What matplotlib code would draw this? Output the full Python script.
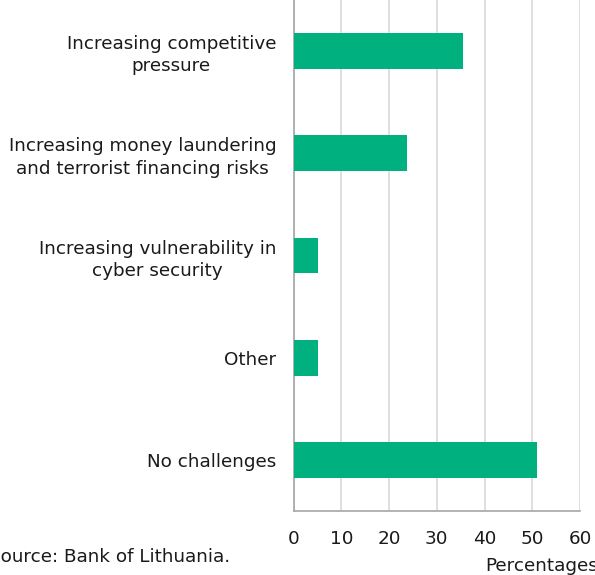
import matplotlib
matplotlib.use("Agg")
import matplotlib.pyplot as plt

# Survey answers, top to bottom
categories = [
    "Increasing competitive\npressure",
    "Increasing money laundering\nand terrorist financing risks",
    "Increasing vulnerability in\ncyber security",
    "Other",
    "No challenges",
]
shares = [35.6, 23.7, 5.1, 5.1, 50.9]
xticks = [0, 10, 20, 30, 40, 50, 60]

BAR_COLOR = "#00B07F"
GRID_COLOR = "#D9D9D9"
SPINE_COLOR = "#A6A6A6"
TEXT_COLOR = "#1A1A1A"
FS = 13.2

plt.rcParams["font.family"] = ["DejaVu Sans"]

fig = plt.figure(figsize=(5.95, 5.75), dpi=100, facecolor="white")
ax = fig.add_axes([0.4933, 0.1113, 0.4815, 0.8887])

y = list(range(len(categories)))
ax.barh(y, shares, height=0.35, color=BAR_COLOR, zorder=3)
ax.set_ylim(len(categories) - 0.5, -0.5)
ax.set_xlim(0, 60)
ax.set_xticks(xticks)
ax.set_xticklabels([str(t) for t in xticks], fontsize=FS, color=TEXT_COLOR)
ax.set_yticks(y)
ax.set_yticklabels(categories, fontsize=FS, color=TEXT_COLOR,
                   multialignment="center", linespacing=1.3)

ax.tick_params(axis="both", length=0)
ax.tick_params(axis="x", pad=13.5)
ax.tick_params(axis="y", pad=12.5)
ax.grid(axis="x", color=GRID_COLOR, linewidth=1.2, zorder=0)

for side in ("top", "right"):
    ax.spines[side].set_visible(False)
for side in ("left", "bottom"):
    ax.spines[side].set_color(SPINE_COLOR)
    ax.spines[side].set_linewidth(1.2)

fig.text(-0.019, 1 - 562 / 575, "Source: Bank of Lithuania.", fontsize=FS,
         color=TEXT_COLOR, ha="left", va="baseline")
fig.text(0.815, 1 - 571 / 575, "Percentages", fontsize=FS,
         color=TEXT_COLOR, ha="left", va="baseline")

fig.savefig("out.png", dpi=100, facecolor="white")
